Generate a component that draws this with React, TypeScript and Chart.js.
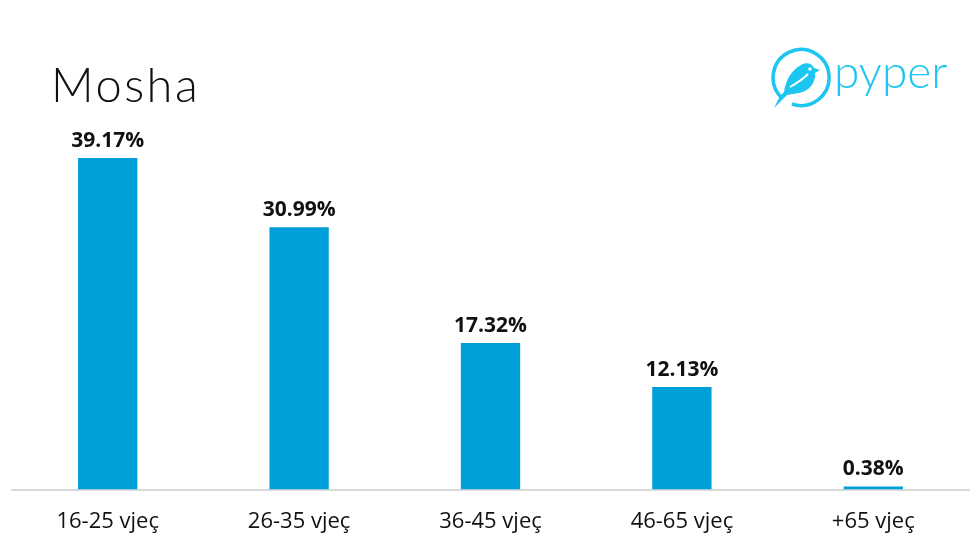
import React, { useEffect, useRef } from "react";
import { Chart, registerables } from "chart.js";

Chart.register(...registerables);

const categories = ["16-25 vjeç", "26-35 vjeç", "36-45 vjeç", "46-65 vjeç", "+65 vjeç"];
const values = [39.17, 30.99, 17.32, 12.13, 0.38];
const valueLabels = ["39.17%", "30.99%", "17.32%", "12.13%", "0.38%"];
const titleText = "Mosha";
const logoText = "pyper";

const barColor = "#009FDA";
const logoColor = "#1CC6F0";

const dataLabelPlugin = {
  id: "dataLabels",
  afterDatasetsDraw(chart: any) {
    const ctx = chart.ctx;
    const meta = chart.getDatasetMeta(0);
    ctx.save();
    ctx.font = "bold 21px 'Open Sans', 'Noto Sans', sans-serif";
    ctx.fillStyle = "#111111";
    ctx.textAlign = "center";
    ctx.textBaseline = "alphabetic";
    meta.data.forEach((bar: any, i: number) => {
      ctx.fillText(valueLabels[i], bar.x, bar.y - 11);
    });
    ctx.restore();
  },
};

export default function App() {
  const ref = useRef<HTMLCanvasElement | null>(null);

  useEffect(() => {
    if (!ref.current) return;
    const chart = new Chart(ref.current, {
      type: "bar",
      data: {
        labels: categories,
        datasets: [
          {
            data: values,
            backgroundColor: barColor,
            barPercentage: 0.31,
            categoryPercentage: 1,
          },
        ],
      },
      options: {
        animation: false,
        responsive: true,
        maintainAspectRatio: false,
        layout: { padding: { left: 12, right: 11, top: 151, bottom: -3 } },
        plugins: {
          legend: { display: false },
          tooltip: { enabled: false },
          title: { display: false },
        },
        scales: {
          x: {
            grid: { display: false, drawTicks: false },
            border: { display: true, color: "#D9D9D9", width: 2 },
            ticks: {
              color: "#111111",
              padding: 19,
              font: { family: "'Open Sans', 'Noto Sans', sans-serif", size: 22 },
            },
          },
          y: {
            display: false,
            min: 0,
            max: 40,
          },
        },
      },
      plugins: [dataLabelPlugin],
    });
    return () => chart.destroy();
  }, []);

  return (
    <div style={{ position: "fixed", left: 0, top: 0, width: 980, height: 551, background: "#fff" }}>
      <canvas ref={ref} style={{ position: "absolute", left: 0, top: 0 }} />
      <div
        style={{
          position: "absolute",
          left: 51,
          top: 54,
          fontFamily: "'Lato', 'DejaVu Sans', sans-serif",
          fontWeight: 300,
          fontSize: 47,
          lineHeight: "60px",
          color: "#111",
          letterSpacing: 2.5,
        }}
      >
        {titleText}
      </div>
      <svg
        style={{ position: "absolute", left: 768, top: 46 }}
        width={190}
        height={66}
        viewBox="0 0 190 66"
      >
        <path
          d="M14 52 A28 28 0 1 1 24 58"
          fill="none"
          stroke={logoColor}
          strokeWidth={3.5}
        />
        <path
          d="M16 46 C18 33 24 24 33 19 C38 16 44 17 46 22 L52 24 L47 27 C48 37 41 45 31 47 L19 49 L6 62 L12 50 Z"
          fill={logoColor}
        />
        <path d="M22 41 C29 37 35 33 40 28" stroke="#fff" strokeWidth={2} fill="none" />
        <circle cx={42} cy={23} r={1.7} fill="#fff" />
        <text
          x={66}
          y={42}
          fill={logoColor}
          fontFamily="'Lato', 'Noto Sans', sans-serif"
          fontWeight={300}
          fontSize={46}
        >
          {logoText}
        </text>
      </svg>
    </div>
  );
}
